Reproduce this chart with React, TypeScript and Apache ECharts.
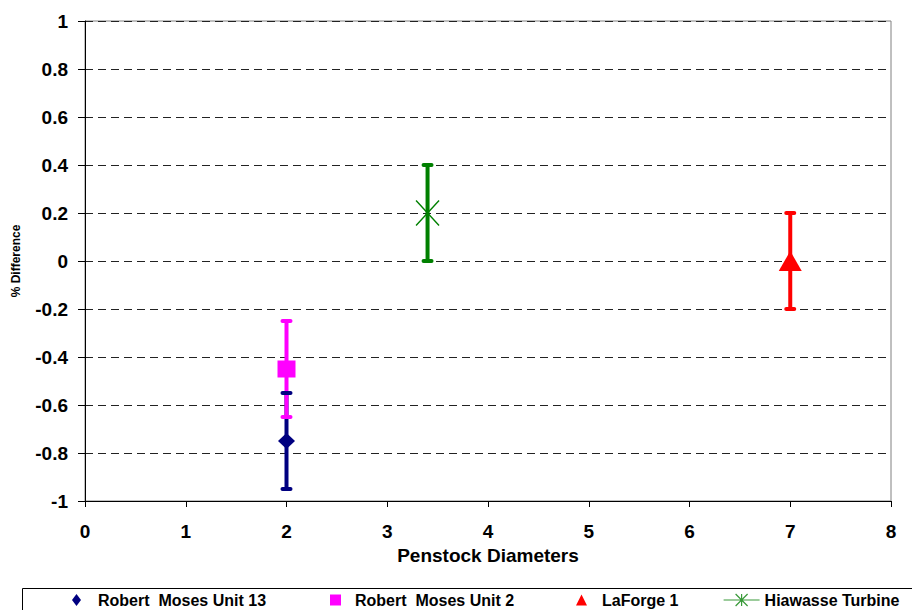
import React, { useEffect, useRef } from "react";
import * as echarts from "echarts";

const seriesNames = ["Robert  Moses Unit 13", "Robert  Moses Unit 2", "LaForge 1", "Hiawasse Turbine"];
const xValues = [2, 2, 7, 3.4];
const yValues = [-0.75, -0.45, 0, 0.2];
const errMinus = [0.2, 0.2, 0.2, 0.2];
const errPlus = [0.2, 0.2, 0.2, 0.2];
const xTicks = { min: 0, max: 8, interval: 1 };
const yTicks = { min: -1, max: 1, interval: 0.2 };

const colors = ["#000080", "#FF00FF", "#FF0000", "#008000"];
const FONT = "'Liberation Sans', Arial, sans-serif";
const STAR = "path://M0,0L10,10M10,0L0,10M5,0L5,10";
const STAR_LEGEND = "path://M0,6L36,6M12,0L24,12M24,0L12,12M18,0L18,12";

export default function App() {
  const ref = useRef<HTMLDivElement>(null);
  useEffect(() => {
    const chart = echarts.init(ref.current!, null, { renderer: "svg" });
    const barData = seriesNames.map((_, i) => [xValues[i], yValues[i] - errMinus[i], yValues[i] + errPlus[i], i]);

    const symbols: any[] = [
      { symbol: "diamond", symbolSize: [17, 16] },
      { symbol: "rect", symbolSize: [18, 17] },
      { symbol: "triangle", symbolSize: [23, 20] },
      { symbol: STAR, symbolSize: [23, 25] },
    ];

    const scatterSeries = seriesNames.map((name, i) => ({
      type: "scatter",
      name,
      data: [[xValues[i], yValues[i]]],
      symbol: symbols[i].symbol,
      symbolSize: symbols[i].symbolSize,
      z: 5,
      itemStyle:
        i === 3
          ? { color: "rgba(0,0,0,0)", borderColor: colors[i], borderWidth: 1.5, opacity: 1 }
          : { color: colors[i], opacity: 1 },
    }));

    const legendDefs = [
      { left: 72, w: 9, h: 12, icon: "diamond", pad: 12 },
      { left: 330, w: 11, h: 11, icon: "rect", pad: 9 },
      { left: 576, w: 11, h: 11, icon: "triangle", pad: 10 },
      { left: 723, w: 36, h: 12, icon: STAR_LEGEND, pad: 0 },
    ];

    const legends = legendDefs.map((d, i) => ({
      left: d.left,
      top: 592,
      padding: 0,
      itemWidth: d.w,
      itemHeight: d.h,
      selectedMode: false,
      textStyle: { fontFamily: FONT, fontWeight: "bold", fontSize: 16, color: "#000", padding: [0, 0, 0, d.pad], lineHeight: 16 },
      data: [
        i === 3
          ? { name: seriesNames[i], icon: d.icon, itemStyle: { color: "rgba(0,0,0,0)", borderColor: "#3a9a3a", borderWidth: 1.2, opacity: 1 } }
          : { name: seriesNames[i], icon: d.icon, itemStyle: { opacity: 1 } },
      ],
    }));

    chart.setOption({
      animation: false,
      backgroundColor: "#fff",
      grid: {
        left: 85,
        right: 21,
        top: 21,
        bottom: 109,
        show: true,
        borderColor: "#808080",
        borderWidth: 1,
        backgroundColor: "transparent",
      },
      legend: legends,
      graphic: [
        {
          type: "rect",
          shape: { x: 22.5, y: 588.5, width: 1000, height: 60 },
          style: { fill: "none", stroke: "#000", lineWidth: 1 },
          silent: true,
          z: -1,
        },
      ],
      xAxis: {
        type: "value",
        min: xTicks.min,
        max: xTicks.max,
        interval: xTicks.interval,
        name: "Penstock Diameters",
        nameLocation: "middle",
        nameGap: 31,
        nameTextStyle: { fontFamily: FONT, fontWeight: "bold", fontSize: 19, color: "#000" },
        axisLine: { show: true, onZero: false, lineStyle: { color: "#000", width: 1 } },
        axisTick: { show: true, inside: false, length: 6, lineStyle: { color: "#000" } },
        axisLabel: { fontFamily: FONT, fontWeight: "bold", fontSize: 19, color: "#000", margin: 21 },
        splitLine: { show: false },
      },
      yAxis: {
        type: "value",
        min: yTicks.min,
        max: yTicks.max,
        interval: yTicks.interval,
        name: "% Difference",
        nameLocation: "middle",
        nameGap: 63,
        nameRotate: 90,
        nameTextStyle: { fontFamily: FONT, fontWeight: "bold", fontSize: 12, color: "#000" },
        axisLine: { show: true, onZero: false, lineStyle: { color: "#000", width: 1 } },
        axisTick: { show: true, inside: false, length: 7, lineStyle: { color: "#000" } },
        axisLabel: {
          fontFamily: FONT,
          fontWeight: "bold",
          fontSize: 19,
          color: "#000",
          margin: 17,
          formatter: (v: number) => String(parseFloat(v.toFixed(1))),
        },
        splitLine: { show: true, lineStyle: { color: "#222", width: 1, type: [8, 5] } },
      },
      series: [
        {
          type: "custom",
          name: "errorLines",
          data: barData,
          encode: { x: 0, y: [1, 2] },
          z: 3,
          renderItem: (params: any, api: any) => {
            const x = api.value(0);
            const p1 = api.coord([x, api.value(1)]);
            const p2 = api.coord([x, api.value(2)]);
            return {
              type: "line",
              shape: { x1: p1[0], y1: p1[1], x2: p2[0], y2: p2[1] },
              style: { stroke: colors[api.value(3)], lineWidth: 4 },
            };
          },
        },
        {
          type: "custom",
          name: "errorCaps",
          data: barData,
          encode: { x: 0, y: [1, 2] },
          z: 4,
          renderItem: (params: any, api: any) => {
            const x = api.value(0);
            const p1 = api.coord([x, api.value(1)]);
            const p2 = api.coord([x, api.value(2)]);
            const st = { stroke: colors[api.value(3)], lineWidth: 4, lineCap: "round" };
            return {
              type: "group",
              children: [
                { type: "line", shape: { x1: p1[0] - 4, y1: p1[1], x2: p1[0] + 4, y2: p1[1] }, style: st },
                { type: "line", shape: { x1: p2[0] - 4, y1: p2[1], x2: p2[0] + 4, y2: p2[1] }, style: st },
              ],
            };
          },
        },
        ...scatterSeries,
      ],
    });
    return () => chart.dispose();
  }, []);
  return <div ref={ref} style={{ width: 912, height: 610, position: "absolute", left: 0, top: 0 }} />;
}
